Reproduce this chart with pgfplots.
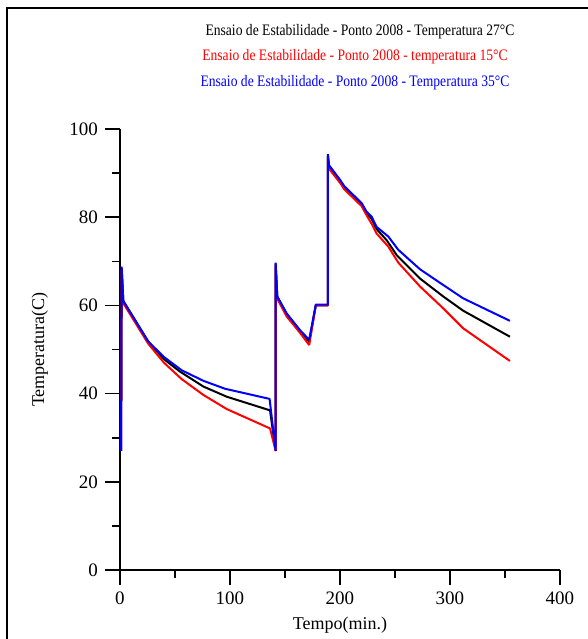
\documentclass[border=0pt]{standalone}
\usepackage{pgfplots}
\pgfplotsset{compat=1.18}
\usepackage{fontspec}
\setmainfont{Liberation Serif}
\newfontfamily\condfont[FakeStretch=0.85]{Liberation Serif}

\begin{document}
\begin{tikzpicture}
\useasboundingbox (0,0) rectangle (294pt,319.5pt);
\draw[line width=1pt] (3.5pt,0) -- (3.5pt,315.5pt) -- (294pt,315.5pt);

\begin{axis}[
    at={(60pt,34.5pt)}, anchor=south west,
    scale only axis,
    width=220pt, height=220.5pt,
    xmin=0, xmax=400, ymin=0, ymax=100,
    axis x line=bottom, axis y line=left,
    axis line style={-, line width=0.8pt},
    xtick={0,100,200,300,400},
    ytick={0,20,40,60,80,100},
    minor tick num=1,
    tick align=outside,
    major tick length=7.5pt,
    minor tick length=4pt,
    every tick/.style={line width=0.8pt, black},
    tick label style={font=\fontsize{9.5}{11}\selectfont},
    /pgf/number format/assume math mode=true,
    xlabel={Tempo(min.)},
    ylabel={Temperatura(C)},
    label style={font=\fontsize{9}{11}\selectfont},
    xlabel style={at={(axis description cs:0.5,-0.125)}, anchor=center},
    ylabel style={at={(axis description cs:-0.182,0.5)}, anchor=center},
    every axis plot/.style={line width=1pt, line join=bevel},
]
\addplot[black] coordinates {
(1,27) (1.5,68.5) (3,61) (25.7,51.8) (40,47.8) (54.5,45) (75.8,41.6) (97,39.3)
(136.4,36.2) (141.5,27) (141.5,69.5) (143,62) (151.5,58) (163.6,54.2) (172,51.8)
(178,60) (189,60) (189,94) (190,91.5) (200,88.3) (204,86.8) (219.7,83) (224,81)
(228.8,79.6) (233.3,77.3) (242.4,74.8) (251.5,71.4) (272.7,66.1) (294,62)
(312,58.8) (354.5,52.9)
};
\addplot[red] coordinates {
(1,27) (1.5,68) (3,60.5) (25.7,51.3) (40,47) (56,43.3) (75.8,39.7) (97,36.5)
(136.4,32.1) (141.5,27) (141.5,69) (143,61.5) (151.5,57.5) (163.6,53.8) (172,51)
(178,60) (189,60) (189,93.5) (190,91) (200,87.8) (204,86.3) (219.7,82.5) (224,80.5)
(228.8,78.5) (233.3,76.3) (244,73.3) (253,69.7) (272.7,64.3) (294,59.3)
(312,54.8) (354.5,47.4)
};
\addplot[blue] coordinates {
(1,27) (1.5,68.8) (3,61) (25.7,51.8) (40,48.3) (56,45.3) (75.8,42.9) (95.5,41.1)
(136,38.8) (141.5,27) (141.5,69.7) (143,62) (151.5,58.2) (163.6,54.4) (172,52.2)
(178,60.2) (189,60.2) (189,94.3) (190,91.8) (200,88.5) (204,87) (219.7,83.2)
(224,81.3) (228.8,80.1) (233.3,77.8) (244,75.6) (253,72.6) (272.7,68.2)
(294,64.6) (312,61.6) (354.5,56.5)
};
\end{axis}

\node[black, font=\condfont\fontsize{8}{9}\selectfont] at (180pt,303.5pt)
  {Ensaio de Estabilidade - Ponto 2008 - Temperatura 27°C};
\node[red, font=\condfont\fontsize{8}{9}\selectfont] at (177.5pt,291pt)
  {Ensaio de Estabilidade - Ponto 2008 - temperatura 15°C};
\node[blue, font=\condfont\fontsize{8}{9}\selectfont] at (177.5pt,278pt)
  {Ensaio de Estabilidade - Ponto 2008 - Temperatura 35°C};
\end{tikzpicture}
\end{document}
